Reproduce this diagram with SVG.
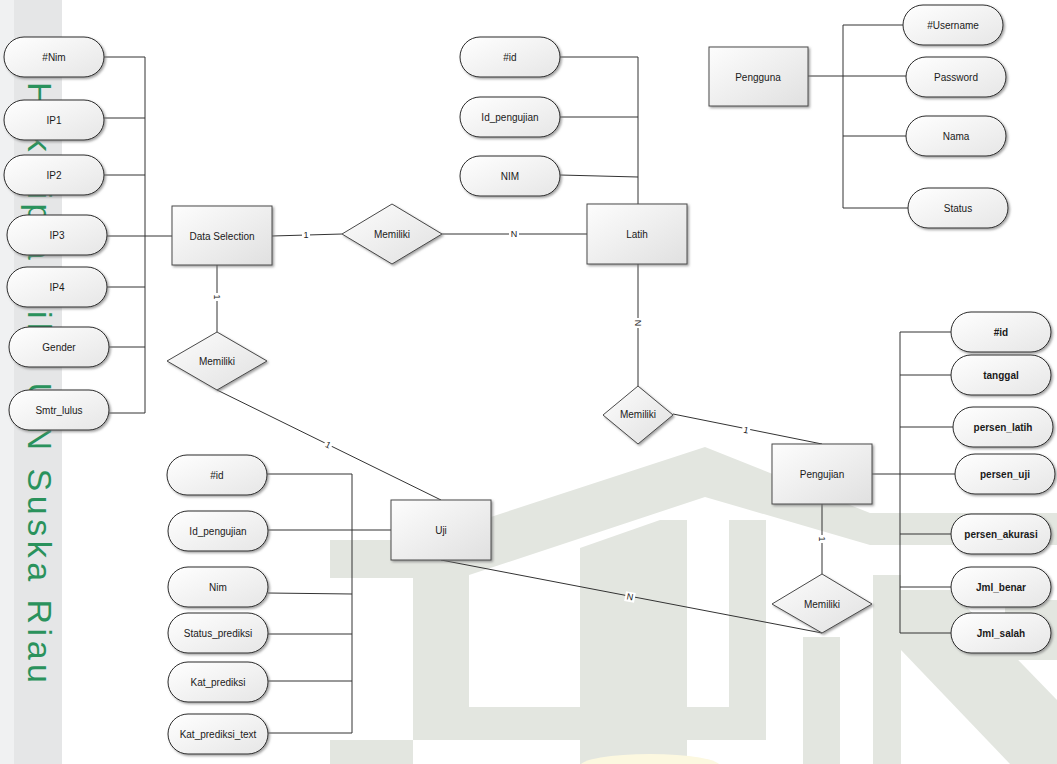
<svg xmlns="http://www.w3.org/2000/svg" width="1057" height="764" viewBox="0 0 1057 764">
<style>
.wm{fill:#e3e6e0}
.attr{stroke:#2b2b2b;stroke-width:1;fill:url(#gp);filter:url(#sh)}
.ent{stroke:#4a4a4a;stroke-width:1;fill:url(#gb);filter:url(#sh)}
.rel{stroke:#4a4a4a;stroke-width:1;fill:url(#gb);filter:url(#sh)}
.t{font-family:"Liberation Sans",Arial,sans-serif;font-size:10px;fill:#1a1a1a;text-anchor:middle;dominant-baseline:central}
.b{font-weight:bold}
.ln{stroke:#333;stroke-width:1;fill:none}
.lb{font-family:"Liberation Sans",Arial,sans-serif;font-size:9px;fill:#222;text-anchor:middle;dominant-baseline:central}
.lbg{fill:#fff}
</style>
<defs>
<linearGradient id="gp" x1="0" y1="0" x2="1" y2="1">
<stop offset="0" stop-color="#ffffff"/><stop offset="1" stop-color="#e6e6e6"/>
</linearGradient>
<linearGradient id="gb" x1="0" y1="0" x2="1" y2="1">
<stop offset="0" stop-color="#fdfdfd"/><stop offset="1" stop-color="#e0e0e0"/>
</linearGradient>
<filter id="sh" x="-10%" y="-10%" width="130%" height="140%">
<feDropShadow dx="1.5" dy="1.5" stdDeviation="0.8" flood-color="#777" flood-opacity="0.7"/>
</filter>
</defs>
<rect width="1057" height="764" fill="#ffffff"/>
<g id="watermark">
<rect x="0" y="0" width="14" height="764" fill="#f0f1f2"/>
<rect x="14" y="0" width="48" height="764" fill="#e5e6e7"/>
<text transform="translate(28,82) rotate(90)" font-family="Liberation Sans,Arial,sans-serif" font-size="34" letter-spacing="4.5" fill="#2a925c">Hak cipta milik UIN Suska Riau</text>
<polygon class="wm" points="330,540 420,540 705,447 870,513 1057,513 1057,545 870,545 705,497 460,578 330,578"/>
<rect class="wm" x="413" y="575" width="56" height="132"/>
<polygon class="wm" points="580,548 660,520 687,520 687,764 580,764"/>
<rect class="wm" x="729" y="520" width="37" height="190"/>
<rect class="wm" x="413" y="707" width="353" height="33"/>
<rect class="wm" x="803" y="637" width="37" height="127"/>
<rect class="wm" x="330" y="740" width="83" height="24"/>
<rect class="wm" x="873" y="575" width="28" height="189"/>
<polygon class="wm" points="901,590 950,590 1057,700 1057,764 1010,764 901,650"/>
<rect class="wm" x="1005" y="600" width="52" height="60"/>
<ellipse cx="650" cy="766" rx="70" ry="12" fill="#fcf8e0"/>
</g>
<g id="connectors">
<path class="ln" d="M145,57V413 M104,57H145 M104,118H145 M104,175H145 M107,236H172 M107,287H145 M109,347H145 M109,413H145"/>
<path class="ln" d="M272,236L342,234 M442,234H587"/>
<path class="ln" d="M638,57V204 M560,57H638 M560,117H638 M560,175L638,177"/>
<path class="ln" d="M638,264V386 M673,414L822,444"/>
<path class="ln" d="M900,332V633 M900,332H951 M900,375H951 M900,427H953 M872,474H955 M900,534H951 M900,587H951 M900,633H951"/>
<path class="ln" d="M822,504V574 M441,560L822,633"/>
<path class="ln" d="M217,265V332 M217,390L441,500"/>
<path class="ln" d="M352,474V733 M266,474H352 M268,530H391 M268,593L352,594 M268,634H352 M268,681H352 M268,733H352"/>
<path class="ln" d="M808,76H906 M843,25V208 M843,25H903 M843,136H906 M843,208H908"/>
<g>
<rect class="lbg" x="302" y="230" width="8" height="10"/><text class="lb" x="306" y="235">1</text>
<rect class="lbg" x="509" y="229" width="10" height="10"/><text class="lb" x="514" y="234">N</text>
<g transform="translate(638,323) rotate(90)"><rect class="lbg" x="-5" y="-5" width="10" height="10"/><text class="lb" x="0" y="0">N</text></g>
<g transform="translate(746,430) rotate(11.4)"><rect class="lbg" x="-4" y="-5" width="8" height="10"/><text class="lb" x="0" y="0">1</text></g>
<g transform="translate(822,539) rotate(90)"><rect class="lbg" x="-4" y="-5" width="8" height="10"/><text class="lb" x="0" y="0">1</text></g>
<g transform="translate(630,597) rotate(10.8)"><rect class="lbg" x="-5" y="-5" width="10" height="10"/><text class="lb" x="0" y="0">N</text></g>
<g transform="translate(217,297) rotate(90)"><rect class="lbg" x="-4" y="-5" width="8" height="10"/><text class="lb" x="0" y="0">1</text></g>
<g transform="translate(328,445) rotate(26.2)"><rect class="lbg" x="-4" y="-5" width="8" height="10"/><text class="lb" x="0" y="0">1</text></g>
</g>
</g>
<g id="attr-nim"><rect class="attr" x="4" y="37" width="100" height="40" rx="20"/><text class="t" x="54" y="57">#Nim</text></g>
<g id="attr-ip1"><rect class="attr" x="4" y="100" width="100" height="40" rx="20"/><text class="t" x="54" y="120">IP1</text></g>
<g id="attr-ip2"><rect class="attr" x="4" y="155" width="100" height="40" rx="20"/><text class="t" x="54" y="175">IP2</text></g>
<g id="attr-ip3"><rect class="attr" x="7" y="215" width="100" height="40" rx="20"/><text class="t" x="57" y="235">IP3</text></g>
<g id="attr-ip4"><rect class="attr" x="7" y="267" width="100" height="40" rx="20"/><text class="t" x="57" y="287">IP4</text></g>
<g id="attr-gender"><rect class="attr" x="9" y="327" width="100" height="40" rx="20"/><text class="t" x="59" y="347">Gender</text></g>
<g id="attr-smtr"><rect class="attr" x="9" y="390" width="100" height="40" rx="20"/><text class="t" x="59" y="410">Smtr_lulus</text></g>
<g id="ent-dataselection"><rect class="ent" x="172" y="206" width="100" height="59"/><text class="t" x="222" y="236">Data Selection</text></g>
<g id="rel-ds-latih"><polygon class="rel" points="342,234 392,204 442,234 392,264"/><text class="t" x="392" y="234">Memiliki</text></g>
<g id="ent-latih"><rect class="ent" x="587" y="204" width="100" height="60"/><text class="t" x="637" y="234">Latih</text></g>
<g id="attr-latih-id"><rect class="attr" x="460" y="37" width="100" height="40" rx="20"/><text class="t" x="510" y="57">#id</text></g>
<g id="attr-latih-idpeng"><rect class="attr" x="460" y="97" width="100" height="40" rx="20"/><text class="t" x="510" y="117">Id_pengujian</text></g>
<g id="attr-latih-nim"><rect class="attr" x="460" y="156" width="100" height="40" rx="20"/><text class="t" x="510" y="176">NIM</text></g>
<g id="ent-pengguna"><rect class="ent" x="709" y="47" width="99" height="59"/><text class="t" x="758" y="77">Pengguna</text></g>
<g id="attr-username"><rect class="attr" x="903" y="5" width="100" height="40" rx="20"/><text class="t" x="953" y="25">#Username</text></g>
<g id="attr-password"><rect class="attr" x="906" y="57" width="100" height="40" rx="20"/><text class="t" x="956" y="77">Password</text></g>
<g id="attr-nama"><rect class="attr" x="906" y="116" width="100" height="40" rx="20"/><text class="t" x="956" y="136">Nama</text></g>
<g id="attr-status"><rect class="attr" x="908" y="188" width="100" height="40" rx="20"/><text class="t" x="958" y="208">Status</text></g>
<g id="rel-ds-uji"><polygon class="rel" points="167,361 217,332 267,361 217,390"/><text class="t" x="217" y="361">Memiliki</text></g>
<g id="rel-latih-peng"><polygon class="rel" points="603,415 638,386 673,415 638,444"/><text class="t" x="638" y="414">Memiliki</text></g>
<g id="ent-pengujian"><rect class="ent" x="772" y="444" width="100" height="60"/><text class="t" x="822" y="474">Pengujian</text></g>
<g id="attr-p-id"><rect class="attr" x="951" y="312" width="100" height="40" rx="20"/><text class="t b" x="1001" y="332">#id</text></g>
<g id="attr-p-tanggal"><rect class="attr" x="951" y="355" width="100" height="40" rx="20"/><text class="t b" x="1001" y="375">tanggal</text></g>
<g id="attr-p-latih"><rect class="attr" x="953" y="407" width="100" height="40" rx="20"/><text class="t b" x="1003" y="427">persen_latih</text></g>
<g id="attr-p-uji"><rect class="attr" x="955" y="454" width="100" height="40" rx="20"/><text class="t b" x="1005" y="474">persen_uji</text></g>
<g id="attr-p-akurasi"><rect class="attr" x="951" y="514" width="100" height="40" rx="20"/><text class="t b" x="1001" y="534">persen_akurasi</text></g>
<g id="attr-p-benar"><rect class="attr" x="951" y="567" width="100" height="40" rx="20"/><text class="t b" x="1001" y="587">Jml_benar</text></g>
<g id="attr-p-salah"><rect class="attr" x="951" y="613" width="100" height="40" rx="20"/><text class="t b" x="1001" y="633">Jml_salah</text></g>
<g id="rel-peng-uji"><polygon class="rel" points="772,604 822,574 872,604 822,633"/><text class="t" x="822" y="604">Memiliki</text></g>
<g id="ent-uji"><rect class="ent" x="391" y="500" width="100" height="60"/><text class="t" x="441" y="530">Uji</text></g>
<g id="attr-u-id"><rect class="attr" x="167" y="455" width="100" height="40" rx="20"/><text class="t" x="217" y="475">#id</text></g>
<g id="attr-u-idpeng"><rect class="attr" x="168" y="511" width="100" height="40" rx="20"/><text class="t" x="218" y="531">Id_pengujian</text></g>
<g id="attr-u-nim"><rect class="attr" x="168" y="567" width="100" height="40" rx="20"/><text class="t" x="218" y="587">Nim</text></g>
<g id="attr-u-status"><rect class="attr" x="168" y="613" width="100" height="40" rx="20"/><text class="t" x="218" y="633">Status_prediksi</text></g>
<g id="attr-u-kat"><rect class="attr" x="168" y="662" width="100" height="40" rx="20"/><text class="t" x="218" y="682">Kat_prediksi</text></g>
<g id="attr-u-kattext"><rect class="attr" x="168" y="714" width="100" height="40" rx="20"/><text class="t" x="218" y="734">Kat_prediksi_text</text></g>
</svg>
